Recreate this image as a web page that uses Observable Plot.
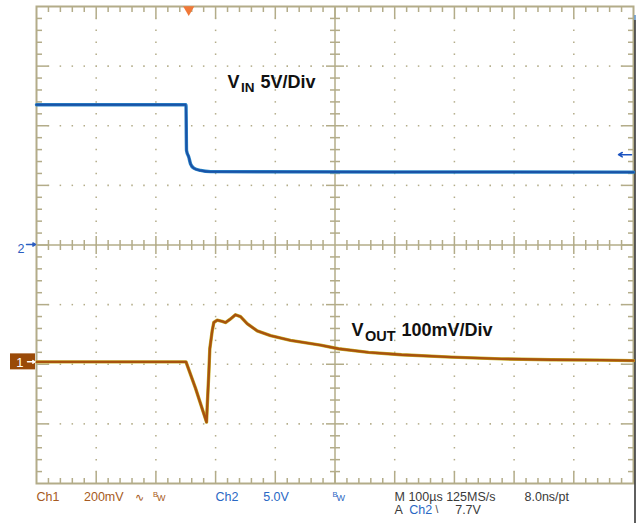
<!DOCTYPE html>
<html>
<head>
<meta charset="utf-8">
<script src="https://cdn.jsdelivr.net/npm/d3@7"></script>
<script src="https://cdn.jsdelivr.net/npm/@observablehq/plot@0.6"></script>
<style>
  html, body { margin: 0; padding: 0; background: #fff; }
  #chart { width: 638px; height: 523px; }
</style>
</head>
<body>
<div id="chart"></div>
<script>
// ---- Data (time in µs from left edge of screen) ----
// Channel 2: VIN in volts
const vinTime  = [0, 250.4, 251.3, 255.1, 258.0, 263.5, 274.7, 291.5, 1000];
const vinVolts = [11.76, 11.76, 7.93, 7.37, 6.81, 6.44, 6.25, 6.15, 6.11];
// Channel 1: VOUT deviation in mV
const voutTime = [0, 250.4, 266.3, 284.8, 285.9, 288.6, 290.3, 294.3, 297.0, 302.7, 311.1, 316.6, 325.0, 333.3, 341.7, 352.9, 369.7, 392.0, 425.5, 475.7, 505.9, 556.1, 611.4, 695.1, 778.9, 862.6, 946.4, 1000];
const voutMv   = [0, 0, -44, -101, -76, -20, 22, 52, 66, 70, 68, 66, 72, 79, 76, 64, 52, 44, 36, 28, 22, 16, 12, 8, 5, 3.5, 3, 2];
// Scope settings
const ch1ScaleMv = 100;   // mV/div (annotation)
const ch2ScaleV = 5;      // V/div
const ch1OffsetDiv = -1.96; // ch1 reference level, divisions
const triggerTime = 255;  // µs
const triggerLevel = 7.7; // V
// Texts
const vinLabel = ["V", "IN", "5V/Div"];
const voutLabel = ["V", "OUT", "100mV/Div"];

const vin = vinTime.map((t, i) => ({t, v: vinVolts[i]}));
const vout = voutTime.map((t, i) => ({t, mv: voutMv[i]}));

// ---- Geometry ----
const W = 638, H = 523, mL = 36, mR = 5, mT = 6, mB = 40;
const frameW = W - mL - mR, frameH = H - mT - mB;
const kx = 1000 / frameW, ky = 8 / frameH;
const FONT = "'Liberation Sans', Arial, sans-serif";
const GRID = "#b3ac89";
const BROWN = "#a65a22", BLUE = "#2a68c4", DARK = "#3a3a3a";

const minorT = d3.range(0, 1000.01, 20).map(v => +v.toFixed(3));
const minorY = d3.range(-4, 4.001, 0.2).map(v => +v.toFixed(3));
const majT = t => Math.abs(t / 100 - Math.round(t / 100)) < 1e-6;
const majY = y => Math.abs(y - Math.round(y)) < 1e-6;
const innerT = minorT.filter(t => t > 0 && t < 1000);
const innerY = minorY.filter(y => y > -4 && y < 4);
const gridLinesT = d3.range(100, 1000, 100).filter(t => t !== 500);
const gridLinesY = [-3, -2, -1, 1, 2, 3];
const gridDots = [
  ...gridLinesT.flatMap(t => innerY.map(y => ({t, y}))),
  ...gridLinesY.flatMap(y => innerT.filter(t => !gridLinesT.includes(t) && t !== 500).map(t => ({t, y})))
];
const ticks = [
  ...innerT.map(t => { const l = (majT(t) ? 12 : 5.5) * ky; return {x1: t, x2: t, y1: 4, y2: 4 - l}; }),
  ...innerT.map(t => { const l = (majT(t) ? 12 : 5.5) * ky; return {x1: t, x2: t, y1: -4, y2: -4 + l}; }),
  ...innerY.map(y => { const l = (majY(y) ? 12 : 5.5) * kx; return {x1: 0, x2: l, y1: y, y2: y}; }),
  ...innerY.map(y => { const l = (majY(y) ? 12 : 5.5) * kx; return {x1: 1000, x2: 1000 - l, y1: y, y2: y}; }),
  ...innerT.filter(t => t !== 500).map(t => { const l = (majT(t) ? 9 : 5) * ky; return {x1: t, x2: t, y1: -l, y2: l}; }),
  ...innerY.filter(y => y !== 0).map(y => { const l = (majY(y) ? 9 : 5) * kx; return {x1: 500 - l, x2: 500 + l, y1: y, y2: y}; })
];

const note = (text, px, py, o = {}) => Plot.text([text], {
  text: d => d, frameAnchor: "top-left", dx: px - mL, dy: py - mT,
  textAnchor: "start", lineAnchor: "bottom", fontFamily: FONT, fontSize: 12.5,
  fill: DARK, ...o
});

const chart = Plot.plot({
  width: W, height: H,
  marginLeft: mL, marginRight: mR, marginTop: mT, marginBottom: mB,
  x: {domain: [0, 1000], axis: null},
  y: {domain: [-4, 4], axis: null},
  style: {background: "#fff", overflow: "visible"},
  marks: [
    Plot.dot(gridDots, {x: "t", y: "y", symbol: "square", r: 0.85, fill: GRID, stroke: null}),
    Plot.ruleX([500], {stroke: GRID, strokeWidth: 1.5}),
    Plot.ruleY([0], {stroke: GRID, strokeWidth: 1.5}),
    Plot.link(ticks, {x1: "x1", x2: "x2", y1: "y1", y2: "y2", stroke: GRID, strokeWidth: 1.5}),
    Plot.frame({stroke: GRID, strokeWidth: 2}),
    // right dark edge
    Plot.ruleX([1000], {y1: 4 - 9 * ky, y2: 4 - 14 * ky, dx: 1.5, stroke: "#5a8fc8", strokeWidth: 1.5}),
    Plot.ruleX([1000], {y1: 4 - 14 * ky, y2: -4 - mB * ky, dx: 1.5, stroke: "#2a2a2a", strokeWidth: 1.5}),
    // traces
    Plot.line(vin, {x: "t", y: d => d.v / ch2ScaleV, stroke: "#2b86c8", strokeWidth: 3.4, curve: "monotone-x"}),
    Plot.line(vin, {x: "t", y: d => d.v / ch2ScaleV, stroke: "#1a52a6", strokeWidth: 2, curve: "monotone-x"}),
    Plot.line(vout, {x: "t", y: d => ch1OffsetDiv + d.mv / ch1ScaleMv, stroke: "#c8b22c", strokeWidth: 3.4, curve: "linear"}),
    Plot.line(vout, {x: "t", y: d => ch1OffsetDiv + d.mv / ch1ScaleMv, stroke: "#a8520e", strokeWidth: 2.4, curve: "linear"}),
    // trigger position marker
    Plot.dot([triggerTime], {x: d => d, y: 4, dy: 3, symbol: "triangle", rotate: 180, r: 4.2, fill: "#f07838", stroke: null}),
    // trigger level arrow
    Plot.arrow([triggerLevel], {x1: 1000 - 2 * kx, x2: 1000 - 15 * kx, y1: d => d / ch2ScaleV, y2: d => d / ch2ScaleV, dy: 1.5, stroke: "#1a52c0", strokeWidth: 1.5, headLength: 6}),
    // channel 2 ground marker
    Plot.text(["2"], {x: 0, y: 0, dx: -12, dy: 4, text: d => d, textAnchor: "end", fontFamily: FONT, fontSize: 12.5, fill: "#2a5cc0"}),
    Plot.arrow([0], {x1: -10 * kx, x2: -1 * kx, y1: d => d, y2: d => d, dy: -0.5, stroke: "#2a5cc0", strokeWidth: 1.5, headLength: 5}),
    // channel 1 marker box
    Plot.rect([ch1OffsetDiv], {x1: -26 * kx, x2: -1 * kx, y1: d => d - 8 * ky, y2: d => d + 8 * ky, fill: "#9a4a08"}),
    Plot.text(["1"], {x: 0, y: ch1OffsetDiv, dx: -13, dy: 1, text: d => d, textAnchor: "end", fontFamily: FONT, fontSize: 13, fill: "#fff"}),
    Plot.arrow([ch1OffsetDiv], {x1: -9 * kx, x2: -1.5 * kx, y1: d => d, y2: d => d, stroke: "#fff", strokeWidth: 1.5, headLength: 5}),
    // channel labels
    note(vinLabel[0], 227, 87, {fontSize: 18, fontWeight: "bold", fill: "#111"}),
    note(vinLabel[1], 240.5, 91.5, {fontSize: 13.5, fontWeight: "bold", fill: "#111"}),
    note(vinLabel[2], 260, 87, {fontSize: 18, fontWeight: "bold", fill: "#111"}),
    note(voutLabel[0], 351, 335, {fontSize: 18, fontWeight: "bold", fill: "#111"}),
    note(voutLabel[1], 364.5, 340, {fontSize: 14.5, fontWeight: "bold", fill: "#111"}),
    note(voutLabel[2], 401, 335, {fontSize: 18, fontWeight: "bold", fill: "#111"}),
    // readouts
    note("Ch1", 36, 500, {fill: BROWN}),
    note("200mV", 83.5, 500, {fill: BROWN}),
    note("∿", 134.5, 500, {fill: BROWN, fontSize: 11, fontFamily: "DejaVu Sans"}),
    note("B", 152.5, 496.5, {fill: BROWN, fontSize: 7.5}),
    note("W", 156.5, 500, {fill: BROWN, fontSize: 9}),
    note("Ch2", 215, 500, {fill: BLUE}),
    note("5.0V", 262.7, 500, {fill: BLUE}),
    note("B", 332, 496.5, {fill: BLUE, fontSize: 7.5}),
    note("W", 336, 500, {fill: BLUE, fontSize: 9}),
    note("M 100µs 125MS/s", 394, 500),
    note("8.0ns/pt", 524, 500),
    note("A", 394, 513.5),
    note("Ch2", 408.7, 513.5, {fill: BLUE}),
    note("\\", 435, 512.5, {fontSize: 10}),
    note("7.7V", 454.7, 513.5)
  ]
});
document.getElementById("chart").append(chart);
</script>
</body>
</html>
